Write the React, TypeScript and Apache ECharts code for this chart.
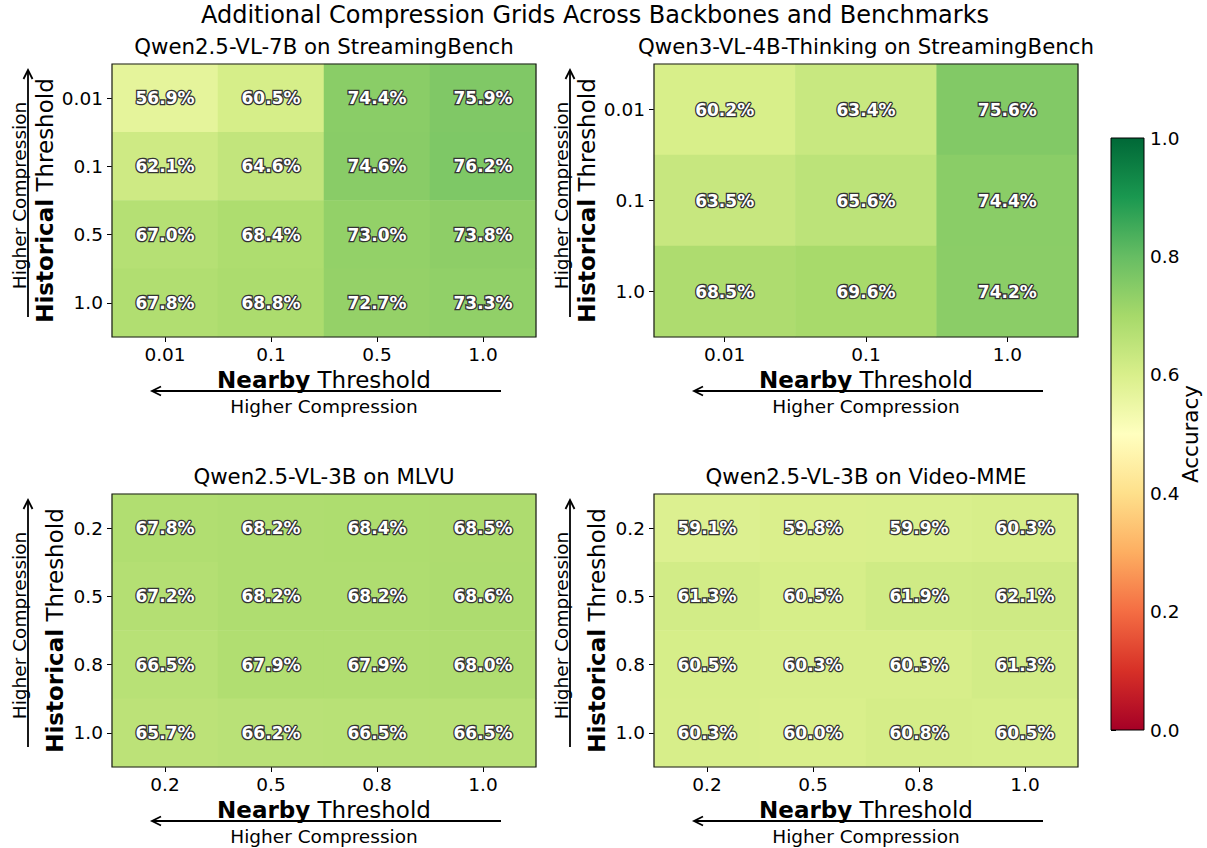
import React, { useEffect, useRef } from 'react';
import * as echarts from 'echarts';

// ---------- data ----------
const mainTitle = 'Additional Compression Grids Across Backbones and Benchmarks';
const panelTitles = [
  'Qwen2.5-VL-7B on StreamingBench',
  'Qwen3-VL-4B-Thinking on StreamingBench',
  'Qwen2.5-VL-3B on MLVU',
  'Qwen2.5-VL-3B on Video-MME',
];

const p1Nearby = ['0.01', '0.1', '0.5', '1.0'];
const p1Historical = ['0.01', '0.1', '0.5', '1.0'];
const p1Values = [
  [56.9, 60.5, 74.4, 75.9],
  [62.1, 64.6, 74.6, 76.2],
  [67.0, 68.4, 73.0, 73.8],
  [67.8, 68.8, 72.7, 73.3],
];

const p2Nearby = ['0.01', '0.1', '1.0'];
const p2Historical = ['0.01', '0.1', '1.0'];
const p2Values = [
  [60.2, 63.4, 75.6],
  [63.5, 65.6, 74.4],
  [68.5, 69.6, 74.2],
];

const p3Nearby = ['0.2', '0.5', '0.8', '1.0'];
const p3Historical = ['0.2', '0.5', '0.8', '1.0'];
const p3Values = [
  [67.8, 68.2, 68.4, 68.5],
  [67.2, 68.2, 68.2, 68.6],
  [66.5, 67.9, 67.9, 68.0],
  [65.7, 66.2, 66.5, 66.5],
];

const p4Nearby = ['0.2', '0.5', '0.8', '1.0'];
const p4Historical = ['0.2', '0.5', '0.8', '1.0'];
const p4Values = [
  [59.1, 59.8, 59.9, 60.3],
  [61.3, 60.5, 61.9, 62.1],
  [60.5, 60.3, 60.3, 61.3],
  [60.3, 60.0, 60.8, 60.5],
];

const colorbarMin = 0;
const colorbarMax = 1;
const colorbarInterval = 0.2;
const colorbarLabel = 'Accuracy';
const xLabelBold = 'Nearby';
const yLabelBold = 'Historical';
const axisLabelRest = 'Threshold';
const arrowText = 'Higher Compression';

const rdYlGn = ['#a50026', '#d73027', '#f46d43', '#fdae61', '#fee08b', '#ffffbf', '#d9ef8b', '#a6d96a', '#66bd63', '#1a9850', '#006837'];

// ---------- layout ----------
const FONT = 'DejaVu Sans';
const W = 424;
const H = 273;
const gridPos = [
  { left: 112, top: 64, ylabOff: 67 },
  { left: 654, top: 64, ylabOff: 67 },
  { left: 112, top: 494, ylabOff: 57 },
  { left: 654, top: 494, ylabOff: 57 },
];
const CB = { left: 1111, top: 138, width: 33, height: 592 };
const TICK_FS = 18.5;

export default function App() {
  const ref = useRef<HTMLDivElement>(null);

  useEffect(() => {
    document.body.style.margin = '0';
    if (!ref.current) return;
    const chart = echarts.init(ref.current, null, { renderer: 'svg' });

    const panels = [
      { nearby: p1Nearby, historical: p1Historical, values: p1Values },
      { nearby: p2Nearby, historical: p2Historical, values: p2Values },
      { nearby: p3Nearby, historical: p3Historical, values: p3Values },
      { nearby: p4Nearby, historical: p4Historical, values: p4Values },
    ];

    const grids: any[] = gridPos.map((g) => ({
      left: g.left, top: g.top, width: W, height: H, containLabel: false, outerBoundsMode: 'none',
    }));
    grids.push({ left: CB.left, top: CB.top, width: CB.width, height: CB.height, containLabel: false, outerBoundsMode: 'none' });

    const xAxes: any[] = panels.map((p, i) => ({
      type: 'category', gridIndex: i, data: p.nearby, position: 'bottom',
      axisLine: { show: false },
      axisTick: { show: true, alignWithLabel: true, length: 5, lineStyle: { color: '#000', width: 1 } },
      axisLabel: { fontSize: TICK_FS, color: '#000', margin: 8, fontFamily: FONT },
      splitLine: { show: false },
    }));
    xAxes.push({ type: 'value', gridIndex: 4, min: 0, max: 1, show: false });

    const yAxes: any[] = panels.map((p, i) => ({
      type: 'category', gridIndex: i, data: p.historical, inverse: true, position: 'left',
      axisLine: { show: false },
      axisTick: { show: true, alignWithLabel: true, length: 5, lineStyle: { color: '#000', width: 1 } },
      axisLabel: { fontSize: TICK_FS, color: '#000', margin: 9, fontFamily: FONT },
      splitLine: { show: false },
    }));
    yAxes.push({
      type: 'value', gridIndex: 4, min: colorbarMin, max: colorbarMax, interval: colorbarInterval, position: 'right',
      axisLine: { show: false },
      axisTick: { show: true, length: 5, lineStyle: { color: '#000', width: 1 } },
      axisLabel: { fontSize: TICK_FS, color: '#000', margin: 6, fontFamily: FONT, formatter: (v: number) => v.toFixed(1) },
      splitLine: { show: false },
    });

    const series: any[] = panels.map((p, i) => {
      const data: any[] = [];
      p.values.forEach((row, r) => row.forEach((v, c) => data.push([c, r, v / 100])));
      return {
        type: 'heatmap', xAxisIndex: i, yAxisIndex: i, data,
        itemStyle: { borderWidth: 0 },
        emphasis: { disabled: true },
        label: {
          show: true,
          formatter: (prm: any) => (prm.value[2] * 100).toFixed(1) + '%',
          color: '#fff', fontWeight: 'bold', fontSize: 17, fontFamily: FONT,
          textBorderColor: '#333', textBorderWidth: 2.6,
        },
      };
    });
    series.push({
      type: 'custom', xAxisIndex: 4, yAxisIndex: 4, data: [[0, 0]], silent: true,
      renderItem: (_params: any, api: any) => {
        const a = api.coord([0, colorbarMin]);
        const b = api.coord([1, colorbarMax]);
        return {
          type: 'rect',
          shape: { x: a[0], y: b[1], width: b[0] - a[0], height: a[1] - b[1] },
          style: {
            fill: new echarts.graphic.LinearGradient(0, 1, 0, 0, rdYlGn.map((c, k) => ({ offset: k / (rdYlGn.length - 1), color: c }))),
            stroke: '#000', lineWidth: 1,
          },
        };
      },
    });

    const graphic: any[] = [];
    graphic.push({
      type: 'text', x: 595, y: 15,
      style: { text: mainTitle, fontSize: 24, fontFamily: FONT, fill: '#000', textAlign: 'center', textVerticalAlign: 'middle' },
    });
    gridPos.forEach((g, i) => {
      const cx = g.left + W / 2;
      const cy = g.top + H / 2;
      const bottom = g.top + H;
      // frame
      graphic.push({ type: 'rect', shape: { x: g.left, y: g.top, width: W, height: H }, style: { fill: 'none', stroke: '#1a1a1a', lineWidth: 1.2 }, z: 100 });
      // title
      graphic.push({ type: 'text', x: cx, y: g.top - 18, style: { text: panelTitles[i], fontSize: 21.3, fontFamily: FONT, fill: '#000', textAlign: 'center', textVerticalAlign: 'middle' } });
      // x axis label
      graphic.push({
        type: 'text', x: cx, y: bottom + 43,
        style: {
          text: '{b|' + xLabelBold + '} ' + axisLabelRest, fontSize: 23, fontFamily: FONT, fill: '#000', textAlign: 'center', textVerticalAlign: 'middle',
          rich: { b: { fontWeight: 'bold', fontSize: 23, fontFamily: FONT, fill: '#000' } },
        },
      });
      // horizontal arrow
      const ay = bottom + 54;
      const tail = g.left + W - 35;
      const head = g.left + 40;
      graphic.push({ type: 'line', shape: { x1: tail, y1: ay, x2: head, y2: ay }, style: { stroke: '#000', lineWidth: 1.8 } });
      graphic.push({ type: 'polyline', shape: { points: [[head + 9, ay - 4.5], [head, ay], [head + 9, ay + 4.5]] }, style: { stroke: '#000', lineWidth: 1.8, fill: 'none' } });
      graphic.push({ type: 'text', x: cx, y: bottom + 69, style: { text: arrowText, fontSize: 18.5, fontFamily: FONT, fill: '#000', textAlign: 'center', textVerticalAlign: 'middle' } });
      // y axis label
      graphic.push({
        type: 'text', x: g.left - g.ylabOff, y: cy, rotation: Math.PI / 2,
        style: {
          text: '{b|' + yLabelBold + '} ' + axisLabelRest, fontSize: 23, fontFamily: FONT, fill: '#000', textAlign: 'center', textVerticalAlign: 'middle',
          rich: { b: { fontWeight: 'bold', fontSize: 23, fontFamily: FONT, fill: '#000' } },
        },
      });
      // vertical arrow
      const vx = g.left - 84;
      const vTail = bottom - 20;
      const vHead = g.top + 6;
      graphic.push({ type: 'line', shape: { x1: vx, y1: vTail, x2: vx, y2: vHead }, style: { stroke: '#000', lineWidth: 1.8 } });
      graphic.push({ type: 'polyline', shape: { points: [[vx - 4.5, vHead + 9], [vx, vHead], [vx + 4.5, vHead + 9]] }, style: { stroke: '#000', lineWidth: 1.8, fill: 'none' } });
      graphic.push({ type: 'text', x: g.left - 93, y: cy - 5, rotation: Math.PI / 2, style: { text: arrowText, fontSize: 18.5, fontFamily: FONT, fill: '#000', textAlign: 'center', textVerticalAlign: 'middle' } });
    });
    // colorbar label
    graphic.push({ type: 'text', x: CB.left + CB.width + 46, y: CB.top + CB.height / 2, rotation: Math.PI / 2, style: { text: colorbarLabel, fontSize: 21.5, fontFamily: FONT, fill: '#000', textAlign: 'center', textVerticalAlign: 'middle' } });

    chart.setOption({
      animation: false,
      backgroundColor: '#fff',
      textStyle: { fontFamily: FONT },
      grid: grids,
      xAxis: xAxes,
      yAxis: yAxes,
      visualMap: {
        type: 'continuous', show: false, min: colorbarMin, max: colorbarMax, dimension: 2,
        seriesIndex: [0, 1, 2, 3], inRange: { color: rdYlGn },
      },
      series,
      graphic,
    });

    return () => chart.dispose();
  }, []);

  return <div ref={ref} style={{ width: 1207, height: 848 }} />;
}
